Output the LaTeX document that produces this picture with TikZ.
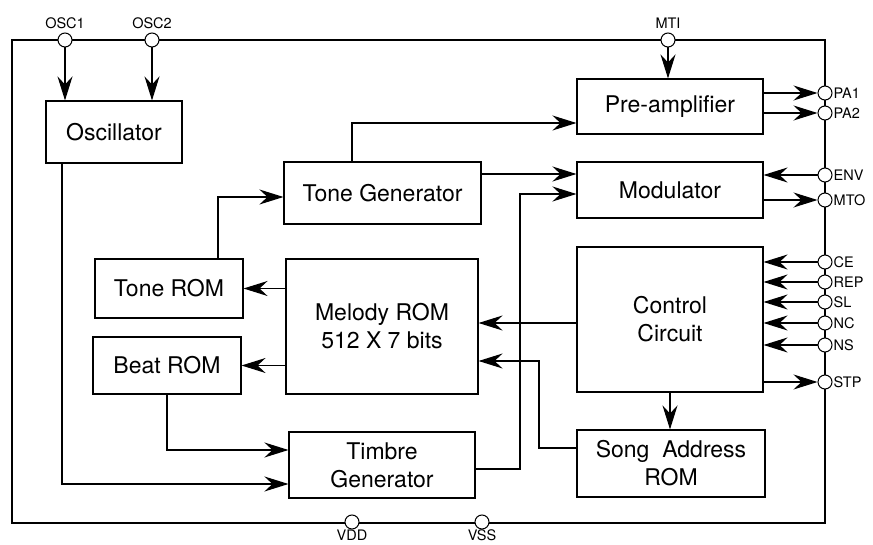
\documentclass[tikz,border=0pt]{standalone}
\usepackage{fontspec}
\setmainfont{TeX Gyre Heros}
\usetikzlibrary{arrows.meta,calc}

\tikzset{
  block/.style={draw, line width=1.1pt, inner sep=0pt, align=center,
                font=\fontsize{23}{28}\selectfont},
  pin/.style={draw, circle, fill=white, line width=1pt,
              minimum size=14pt, inner sep=0pt},
  pinlbl/.style={font=\fontsize{14.5}{16}\selectfont, inner sep=1pt},
  conn/.style={line width=1.1pt, -{Stealth[length=24pt,width=15pt,inset=8pt]}},
  wire/.style={line width=1.1pt}
}

\begin{document}
\begin{tikzpicture}[x=1pt,y=-1pt]
  \useasboundingbox (0,0) rectangle (873,545);

  % chip outline
  \draw[wire] (12,40) rectangle (825,523);

  % blocks
  \node[block, minimum width=136pt, minimum height=62pt]  (osc)   at (114,132)   {Oscillator};
  \node[block, minimum width=186pt, minimum height=55pt]  (pre)   at (670,106.5) {Pre-amplifier};
  \node[block, minimum width=186pt, minimum height=56pt]  (mod)   at (670,190)   {Modulator};
  \node[block, minimum width=197pt, minimum height=62pt]  (tgen)  at (382.5,193) {Tone Generator};
  \node[block, minimum width=148pt, minimum height=59pt]  (trom)  at (169,288.5) {Tone ROM};
  \node[block, minimum width=148pt, minimum height=57pt]  (brom)  at (167,365.5) {Beat ROM};
  \node[block, minimum width=192pt, minimum height=135pt] (mrom)  at (382,326.5) {Melody ROM\\512 X 7 bits};
  \node[block, minimum width=186pt, minimum height=145pt] (ctrl)  at (670,319.5) {Control\\Circuit};
  \node[block, minimum width=188pt, minimum height=67pt]  (sarom) at (671,463.5) {Song\ \ Address\\ROM};
  \node[block, minimum width=186pt, minimum height=66pt]  (timb)  at (382,465)   {Timbre\\Generator};

  % pins
  \node[pin] (osc1) at (65,40)   {};
  \node[pin] (osc2) at (152,40)  {};
  \node[pin] (mti)  at (668,40)  {};
  \node[pin] (pa1)  at (825,93)  {};
  \node[pin] (pa2)  at (825,113) {};
  \node[pin] (env)  at (825,175) {};
  \node[pin] (mto)  at (825,200) {};
  \node[pin] (ce)   at (825,262) {};
  \node[pin] (rep)  at (825,282) {};
  \node[pin] (sl)   at (825,302) {};
  \node[pin] (nc)   at (825,323) {};
  \node[pin] (ns)   at (825,345) {};
  \node[pin] (stp)  at (825,382) {};
  \node[pin] (vdd)  at (352,522) {};
  \node[pin] (vss)  at (482,522) {};

  % pin names
  \node[pinlbl, above=3pt] at (osc1.north) {OSC1};
  \node[pinlbl, above=3pt] at (osc2.north) {OSC2};
  \node[pinlbl, above=3pt] at (mti.north)  {MTI};
  \node[pinlbl, below=-1pt] at (vdd.south) {VDD};
  \node[pinlbl, below=-1pt] at (vss.south) {VSS};
  \foreach \p/\t in {pa1/PA1, pa2/PA2, env/ENV, mto/MTO, ce/CE,
                     rep/REP, sl/SL, nc/NC, ns/NS, stp/STP}
    \node[pinlbl, anchor=west] at (\p.east) {\t};

  % inputs and outputs
  \draw[conn] (osc1) -- (osc1 |- osc.north);
  \draw[conn] (osc2) -- (osc2 |- osc.north);
  \draw[conn] (mti) -- (mti |- pre.north);
  \draw[conn] (pre.east |- pa1) -- (pa1);
  \draw[conn] (pre.east |- pa2) -- (pa2);
  \draw[conn] (env) -- (env -| mod.east);
  \draw[conn] (mod.east |- mto) -- (mto);
  \foreach \p in {ce, rep, sl, nc, ns}
    \draw[conn] (\p) -- (\p -| ctrl.east);
  \draw[conn] (ctrl.east |- stp) -- (stp);

  % internal signals
  \coordinate (tb) at (520,194);
  \coordinate (sa) at (539,361);
  \draw[conn] ([xshift=-30.5pt]tgen.north) |- ([yshift=-16.5pt]pre.west);
  \draw[conn] ([yshift=19pt]tgen.east) -- ([yshift=19pt]tgen.east -| mod.west);
  \draw[conn] ([yshift=-4pt]timb.east) -| (tb) -- (tb -| mod.west);
  \draw[conn] ([yshift=-3.5pt]ctrl.west) -- ([yshift=-3.5pt]ctrl.west -| mrom.east);
  \draw[conn] ([yshift=15.5pt]sarom.west) -| (sa) -- (sa -| mrom.east);
  \draw[conn] (ctrl.south) -- (ctrl.south |- sarom.north);
  \draw[conn] (mrom.west |- trom) -- (trom.east);
  \draw[conn] (mrom.west |- brom) -- (brom.east);
  \draw[conn] ([xshift=49pt]trom.north) |- ([yshift=-4pt]tgen.west);
  \draw[conn] (brom.south) |- ([yshift=15pt]timb.west);
  \draw[conn] ([xshift=-52pt]osc.south) |- ([yshift=-19pt]timb.west);
\end{tikzpicture}
\end{document}
